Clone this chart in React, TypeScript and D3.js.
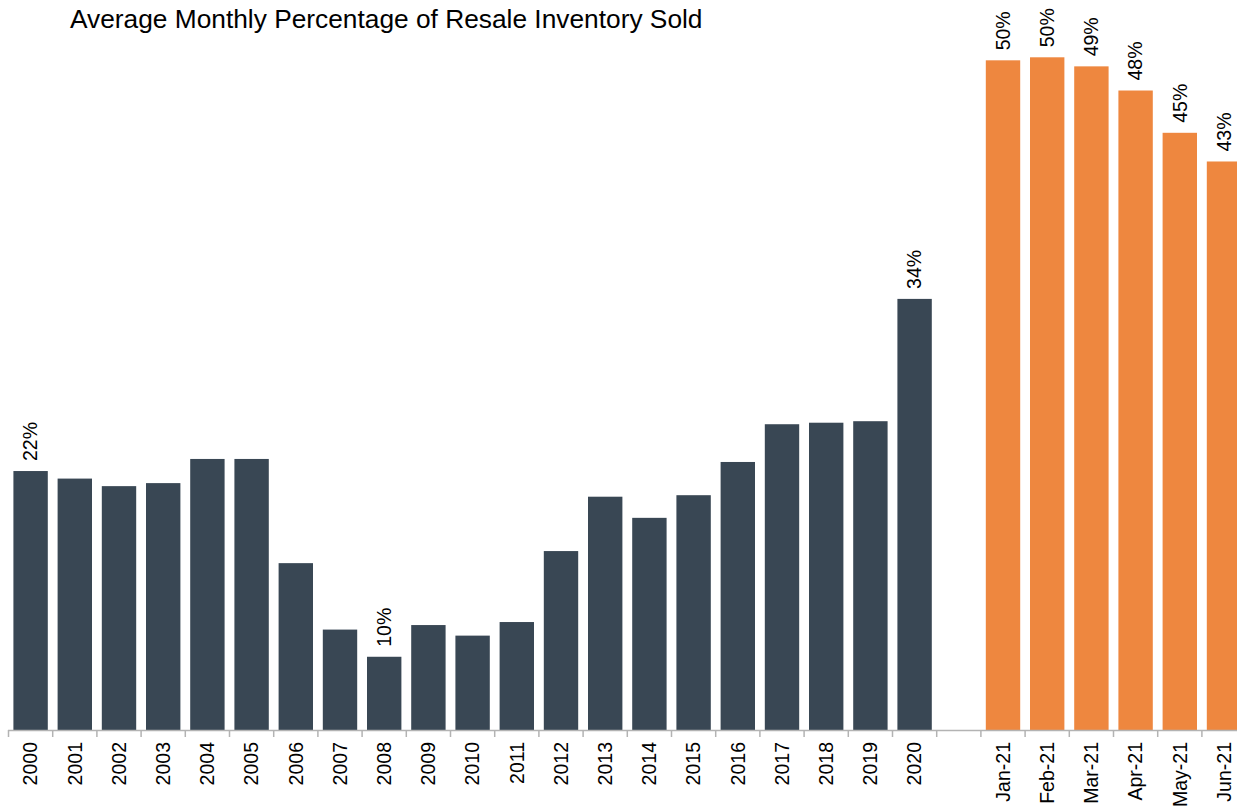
import React from "react";
import * as d3 from "d3";

const yearCats = ["2000","2001","2002","2003","2004","2005","2006","2007","2008","2009","2010","2011","2012","2013","2014","2015","2016","2017","2018","2019","2020"];
const yearValues = [22.4,21.9,21.4,21.6,23.2,23.2,16.3,11.9,10.1,12.2,11.5,12.4,17.1,20.7,19.3,20.8,23.0,25.5,25.6,25.7,33.8];
const monthCats = ["Jan-21","Feb-21","Mar-21","Apr-21","May-21","Jun-21"];
const monthValues = [49.6,49.8,49.2,47.6,44.8,42.9];
const labeledYears = ["2000","2008","2020"];
const gapCat = "";
const title = "Average Monthly Percentage of Resale Inventory Sold";

const W = 1237, H = 810;
const DARK = "#394754";
const ORANGE = "#EE873F";
const FONT = "'Liberation Sans', Arial, Helvetica, sans-serif";

export default function App() {
  const cats = [...yearCats, gapCat, ...monthCats];
  const bars = [
    ...yearCats.map((c, i) => ({ c, v: yearValues[i], color: DARK, label: labeledYears.includes(c) })),
    ...monthCats.map((c, i) => ({ c, v: monthValues[i], color: ORANGE, label: true })),
  ];
  const left = 8.5;
  const step = 44.2;
  const pad = 0.222;
  const x = d3.scaleBand<string>().domain(cats).range([left, left + step * cats.length]).paddingInner(pad).paddingOuter(pad / 2);
  const y = d3.scaleLinear().domain([5.25, 50]).range([730, 730 - 44.75 * 15.1]);
  const base = y(5.25);
  const off = (x.step() * pad) / 2;
  const tickXs = [...cats.map((c) => (x(c) as number) - off), left + x.step() * cats.length];

  return (
    <svg width={W} height={H} style={{ position: "absolute", left: 0, top: 0, background: "#fff" }} fontFamily={FONT}>
      <text x={70} y={28} fontSize={26.3} fill="#000">{title}</text>
      {bars.map((b) => (
        <rect key={b.c} x={x(b.c)} y={y(b.v)} width={x.bandwidth()} height={base - y(b.v)} fill={b.color} />
      ))}
      {bars.filter((b) => b.label).map((b) => {
        const cx = (x(b.c) as number) + x.bandwidth() / 2;
        const ty = y(b.v) - 10;
        return (
          <text key={"l" + b.c} transform={`translate(${cx},${ty}) rotate(-90)`} textAnchor="start" dy="0.35em" fontSize={19.5} fill="#000">
            {d3.format(".0f")(b.v) + "%"}
          </text>
        );
      })}
      <line x1={8} x2={W} y1={base + 0.5} y2={base + 0.5} stroke="#b3b3b3" strokeWidth={1.5} />
      {tickXs.map((tx, i) => (
        <line key={"t" + i} x1={tx} x2={tx} y1={base} y2={base + 7} stroke="#b3b3b3" strokeWidth={1.5} />
      ))}
      {cats.filter((c) => c !== gapCat).map((c) => {
        const cx = (x(c) as number) + x.bandwidth() / 2;
        return (
          <text key={"x" + c} transform={`translate(${cx},${base + 12}) rotate(-90)`} textAnchor="end" dy="0.35em" fontSize={19.5} fill="#000">
            {c}
          </text>
        );
      })}
    </svg>
  );
}
